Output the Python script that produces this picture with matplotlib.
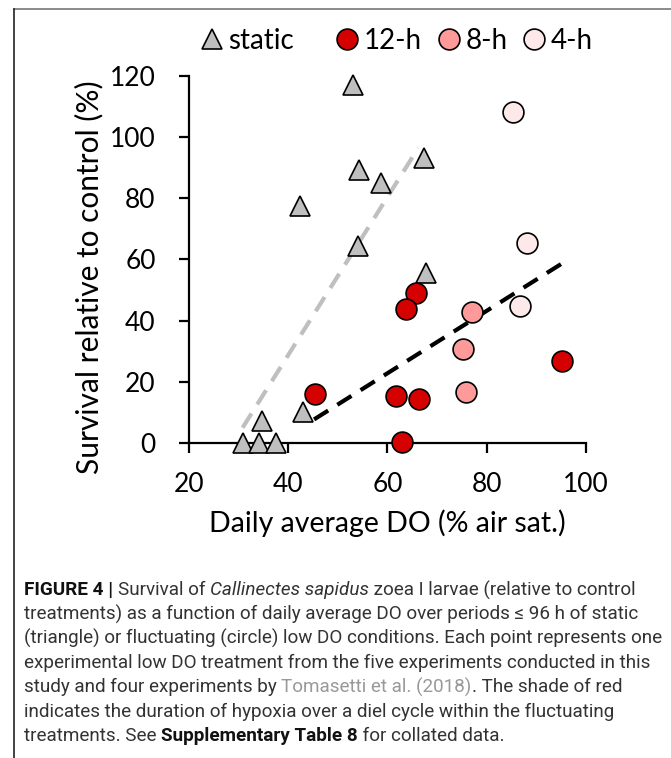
import matplotlib
matplotlib.use('Agg')
import matplotlib.pyplot as plt
from matplotlib.lines import Line2D

# Data (x: daily average DO, y: survival relative to control)
static_x = [53.0, 67.4, 54.3, 58.7, 42.4, 54.0, 67.7, 43.0, 34.8, 30.9, 34.2, 37.5]
static_y = [117.0, 93.0, 89.3, 85.0, 77.3, 64.5, 55.6, 10.0, 7.3, 0.0, 0.0, 0.0]
h12_x = [65.7, 63.8, 45.4, 61.7, 66.4, 63.0, 95.1]
h12_y = [49.0, 43.9, 15.9, 15.4, 14.3, 0.2, 26.7]
h8_x = [77.1, 75.3, 75.9]
h8_y = [42.8, 30.8, 16.5]
h4_x = [85.3, 88.2, 86.7]
h4_y = [108.0, 65.2, 44.6]

# Trend lines (end points)
static_fit_x = [30.8, 66.2]
static_fit_y = [5.0, 96.4]
fluct_fit_x = [45.2, 95.5]
fluct_fit_y = [7.7, 59.0]

legend_labels = ['static', '12-h', '8-h', '4-h']
xticks = [20, 40, 60, 80, 100]
yticks = [0, 20, 40, 60, 80, 100, 120]

chart_font = 'Lato'
cap_font = 'Roboto'

fig = plt.figure(figsize=(6.71, 7.58), dpi=100)
ax = fig.add_axes([189 / 671, 1 - 443 / 758, 397 / 671, (443 - 75.7) / 758])

ax.plot(static_fit_x, static_fit_y, color='#bfbfbf', lw=3, dashes=(4, 2.6), zorder=2)
ax.plot(fluct_fit_x, fluct_fit_y, color='black', lw=3, dashes=(4, 2.6), zorder=2)

ms = 15
mk = dict(ls='none', mec='black', mew=1.2)
ax.plot(static_x, static_y, marker='^', ms=ms, mfc='#bfbfbf', clip_on=False, zorder=3, **mk)
ax.plot(h12_x, h12_y, marker='o', ms=ms, mfc='#d50000', clip_on=False, zorder=3, **mk)
ax.plot(h8_x, h8_y, marker='o', ms=ms, mfc='#ff9a9a', clip_on=False, zorder=3, **mk)
ax.plot(h4_x, h4_y, marker='o', ms=ms, mfc='#fde9e9', clip_on=False, zorder=3, **mk)

ax.set_xlim(20, 100)
ax.set_ylim(0, 120)
ax.set_xticks(xticks)
ax.set_yticks(yticks)
for s in ['top', 'right']:
    ax.spines[s].set_visible(False)
for s in ['left', 'bottom']:
    ax.spines[s].set_linewidth(1.6)
ax.tick_params(direction='out', length=7, width=1.6, labelsize=19)
ax.tick_params(axis='y', pad=17)
ax.tick_params(axis='x', pad=14)
for lab in ax.get_xticklabels() + ax.get_yticklabels():
    lab.set_fontfamily(chart_font)
ax.set_xlabel('Daily average DO (% air sat.)', fontsize=20.5, family=chart_font, va='center')
ax.set_ylabel('Survival relative to control (%)', fontsize=21.5, family=chart_font, va='center')
ax.xaxis.set_label_coords(0.5, (443 - 523) / 367.3)
ax.yaxis.set_label_coords((89 - 189) / 397, (443 - 277) / 367.3)

h_static = [Line2D([], [], marker='^', ms=ms, mfc='#bfbfbf', **mk)]
h_circ = [Line2D([], [], marker='o', ms=ms, mfc='#d50000', **mk),
          Line2D([], [], marker='o', ms=ms, mfc='#ff9a9a', **mk),
          Line2D([], [], marker='o', ms=ms, mfc='#fde9e9', **mk)]
leg_kw = dict(frameon=False, prop={'family': chart_font, 'size': 20}, handletextpad=0.1,
              handlelength=1.0, borderpad=0, borderaxespad=0, loc='center left')
fig.legend(h_static, legend_labels[:1], bbox_to_anchor=(198 / 671, 1 - 41 / 758), **leg_kw)
fig.legend(h_circ, legend_labels[1:], bbox_to_anchor=(333.5 / 671, 1 - 41 / 758), ncol=3,
           columnspacing=0.45, **leg_kw)

# frame around the figure
fig.add_artist(Line2D([14 / 671, 1], [1 - 9 / 758] * 2, color='#777777', lw=1.2))
fig.add_artist(Line2D([14 / 671] * 2, [0, 1 - 9 / 758], color='#222222', lw=1.2))

# caption, drawn run by run
dark, grey = '#333333', '#999999'
cap_lines = [
    [('FIGURE 4 | ', 'bold', 'normal', '#111111'), ('Survival of ', 'normal', 'normal', dark),
     ('Callinectes sapidus', 'normal', 'italic', dark),
     (' zoea I larvae (relative to control', 'normal', 'normal', dark)],
    [('treatments) as a function of daily average DO over periods \u2264 96 h of static', 'normal', 'normal', dark)],
    [('(triangle) or fluctuating (circle) low DO conditions. Each point represents one', 'normal', 'normal', dark)],
    [('experimental low DO treatment from the five experiments conducted in this', 'normal', 'normal', dark)],
    [('study and four experiments by ', 'normal', 'normal', dark),
     ('Tomasetti et al. (2018)', 'normal', 'normal', grey),
     ('. The shade of red', 'normal', 'normal', dark)],
    [('indicates the duration of hypoxia over a diel cycle within the fluctuating', 'normal', 'normal', dark)],
    [('treatments. See ', 'normal', 'normal', dark), ('Supplementary Table 8', 'bold', 'normal', '#111111'),
     (' for collated data.', 'normal', 'normal', dark)],
]
renderer = fig.canvas.get_renderer()
y0 = 590
for i, runs in enumerate(cap_lines):
    x = 24
    for txt, wt, st, col in runs:
        t = fig.text(x / 671, 1 - (y0 + i * 24.3) / 758, txt, fontsize=13.6, family=cap_font,
                     weight=wt, style=st, color=col, va='center', ha='left')
        x += t.get_window_extent(renderer).width

fig.savefig('out.png', dpi=100)
